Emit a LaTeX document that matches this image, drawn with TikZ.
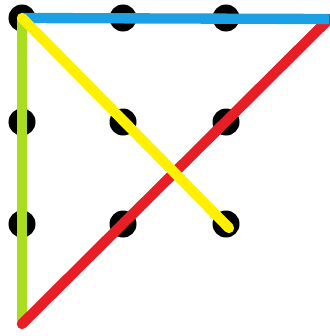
\documentclass[tikz,border=0pt]{standalone}
\usepackage{tikz}
\usetikzlibrary{positioning}

\definecolor{lineblue}{RGB}{27,160,228}
\definecolor{linegreen}{RGB}{168,222,30}
\definecolor{linered}{RGB}{232,30,38}
\definecolor{lineyellow}{RGB}{255,240,0}

\begin{document}
\begin{tikzpicture}[
        x=0.03cm, y=-0.03cm,
        dot/.style={
            circle,
            fill=black,
            inner sep=0pt,
            minimum size=0.81cm
        },
        stroke/.style={line width=0.31cm}
    ]
        \useasboundingbox (0,0) rectangle (329,336);

        % the nine dots
        \foreach \r/\y in {1/18, 2/122, 3/224} {
            \foreach \c/\x in {1/22, 2/123, 3/226} {
                \node[dot] (d\r\c) at (\x,\y) {};
            }
        }

        % ends outside the grid
        \coordinate (corner) at (329,19);
        \coordinate (foot) at (22,324);
        \coordinate (tip) at (229,228);

        \draw[stroke, linegreen] (d11.center) -- (foot);
        \draw[stroke, linered, line cap=round] (corner) -- (foot);
        \draw[stroke, lineblue] (d11.center) -- (corner);
        \draw[stroke, lineyellow, line cap=round] (d11.center) -- (tip);

    \end{tikzpicture}
\end{document}
